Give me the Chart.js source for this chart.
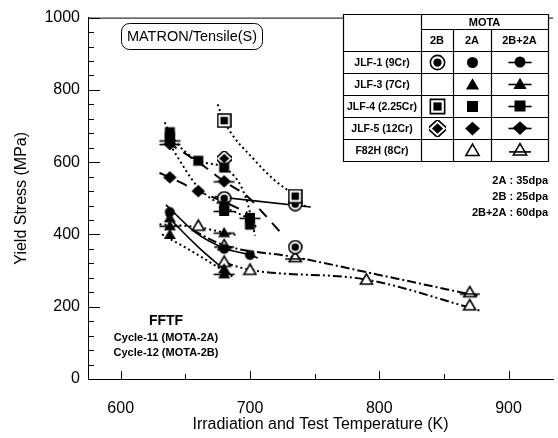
<!DOCTYPE html>
<html>
<head>
<meta charset="utf-8">
<script src="https://cdn.jsdelivr.net/npm/chart.js@4"></script>
<style>
  html, body { margin: 0; padding: 0; background: #fff; }
  #wrap { width: 558px; height: 438px; }
</style>
</head>
<body>
<div id="wrap"><canvas id="chart" width="558" height="438"></canvas></div>
<script>
// Axis ticks
const xTicks = [600, 700, 800, 900];
const xMinorTicks = [650, 750, 850];
const yTicks = [0, 200, 400, 600, 800, 1000];
const yMinorTicks = [40, 80, 120, 160, 240, 280, 320, 360, 440, 480, 520, 560, 640, 680, 720, 760, 840, 880, 920, 960];

// Measured points [temperature K, yield stress MPa]
const jlf1_2B = [[680, 500], [735, 484], [735, 365]];
const jlf1_2A = [[638, 462], [680, 360], [700, 343]];
const jlf3_2A = [[638, 446], [638, 400], [680, 305]];
const jlf3_2B2A = [[638, 424], [680, 405], [680, 291]];
const jlf4_2B = [[680, 715], [735, 506]];
const jlf4_2A = [[638, 683], [638, 670], [660, 604], [680, 585], [680, 479], [700, 427]];
const jlf4_2B2A = [[638, 660], [680, 465], [700, 446]];
const jlf5_2B = [[680, 610]];
const jlf5_2A = [[638, 558], [660, 520]];
const jlf5_2B2A = [[638, 650], [680, 547]];
const f82h_2A = [[660, 424], [680, 324], [700, 302], [790, 275], [870, 204]];
const f82h_2B2A = [[680, 370], [735, 337], [870, 240]];

// Trend curves
const fitJlf4_2B = [[675, 760], [680, 713], [704, 604], [719, 550], [735, 506], [744, 473]];
const fitJlf4_2A = [[634, 710], [638, 680], [660, 604], [681, 583], [697, 500], [704, 397]];
const fitJlf4_2B2A = [[636, 660], [660, 530], [681, 475], [700, 440], [705, 420]];
const fitJlf5_2A = [[630, 570], [638, 558], [660, 520], [680, 490], [698, 460]];
const fitJlf5_2B2A = [[636, 655], [660, 600], [680, 547], [698, 505], [710, 460], [725, 400]];
const fitJlf1_2B = [[673, 505], [747, 476]];
const fitJlf1_2A = [[635, 482], [658, 405], [680, 362], [700, 343], [706, 335]];
const fitJlf3_2A = [[635, 454], [660, 365], [685, 288]];
const fitJlf3_2B2A = [[630, 428], [660, 420], [680, 405], [690, 398]];
const fitJlf3_low = [[632, 400], [660, 343], [688, 280]];
const fitF82h_2B2A = [[656, 411], [680, 370], [735, 337], [800, 288], [876, 230]];
const fitF82h_2A = [[680, 322], [700, 302], [790, 275], [879, 188]];

// Legend table
const legendRows = ['JLF-1 (9Cr)', 'JLF-3 (7Cr)', 'JLF-4 (2.25Cr)', 'JLF-5 (12Cr)', 'F82H (8Cr)'];
const legendShapes = ['circle', 'triangle', 'square', 'diamond', 'open'];
const legendCols = ['2B', '2A', '2B+2A'];
const legendCells = [
  ['2B', '2A', '2B2A'],
  [null, '2A', '2B2A'],
  ['2B', '2A', '2B2A'],
  ['2B', '2A', '2B2A'],
  [null, '2A', '2B2A']
];
const doseNotes = ['2A : 35dpa', '2B : 25dpa', '2B+2A : 60dpa'];

const FONT = 'Arial, "Liberation Sans", Helvetica, sans-serif';

function shapePath(ctx, shape, c, r) {
  ctx.beginPath();
  if (shape === 'circle') {
    ctx.arc(c, c, r, 0, Math.PI * 2);
  } else if (shape === 'square') {
    ctx.rect(c - r, c - r, r * 2, r * 2);
  } else if (shape === 'diamond') {
    ctx.moveTo(c, c - r * 1.25); ctx.lineTo(c + r * 1.35, c);
    ctx.lineTo(c, c + r * 1.25); ctx.lineTo(c - r * 1.35, c);
  } else {
    ctx.moveTo(c, c - r * 1.15); ctx.lineTo(c + r * 1.2, c + r * 0.9);
    ctx.lineTo(c - r * 1.2, c + r * 0.9);
  }
  ctx.closePath();
}

function makeMarker(shape, kind, r) {
  const size = kind === '2B2A' ? Math.round(r * 4.4) : Math.round(r * 3);
  const cv = document.createElement('canvas');
  cv.width = size; cv.height = size;
  const ctx = cv.getContext('2d');
  const c = size / 2;
  ctx.strokeStyle = '#000';
  ctx.fillStyle = '#000';
  ctx.lineWidth = 1.6;
  if (shape === 'open') {
    shapePath(ctx, 'triangle', c, r);
    ctx.fillStyle = '#fff';
    ctx.fill();
    ctx.stroke();
    if (kind === '2B2A') {
      ctx.beginPath();
      ctx.moveTo(c - r * 2, c + r * 0.35); ctx.lineTo(c + r * 2, c + r * 0.35);
      ctx.stroke();
    }
    return cv;
  }
  if (kind === '2B') {
    shapePath(ctx, shape, c, r * 1.3);
    ctx.fillStyle = '#fff';
    ctx.fill();
    ctx.stroke();
    ctx.fillStyle = '#000';
    shapePath(ctx, shape, c, r * 0.75);
    ctx.fill();
    return cv;
  }
  shapePath(ctx, shape, c, r);
  ctx.fill();
  if (kind === '2B2A') {
    ctx.beginPath();
    ctx.moveTo(c - r * 2.1, c + 0.5); ctx.lineTo(c + r * 2.1, c + 0.5);
    ctx.stroke();
  }
  return cv;
}

const toXY = arr => arr.map(p => ({ x: p[0], y: p[1] }));

function pointSet(data, shape, kind) {
  return {
    type: 'scatter',
    data: toXY(data),
    pointStyle: makeMarker(shape, kind, 5),
    showLine: false,
    order: 1
  };
}

function curve(data, dash, width) {
  return {
    type: 'line',
    data: toXY(data),
    borderColor: '#000',
    borderWidth: width || 2,
    borderDash: dash,
    pointRadius: 0,
    fill: false,
    cubicInterpolationMode: 'monotone',
    order: 2
  };
}

const DOT = [2, 3];
const LONG = [11, 8];
const DASHDOT = [9, 3, 2, 3];
const DASHDOTDOT = [9, 3, 2, 3, 2, 3];

const datasets = [
  curve(fitJlf4_2B, DOT),
  curve(fitJlf4_2A, DOT),
  curve(fitJlf4_2B2A, DOT),
  curve(fitJlf5_2A, LONG),
  curve(fitJlf5_2B2A, LONG),
  curve(fitJlf1_2B, [], 1.6),
  curve(fitJlf1_2A, [], 1.6),
  curve(fitJlf3_2A, [], 1.6),
  curve(fitJlf3_2B2A, DOT),
  curve(fitJlf3_low, DOT),
  curve(fitF82h_2B2A, DASHDOT),
  curve(fitF82h_2A, DASHDOTDOT),
  pointSet(jlf4_2B, 'square', '2B'),
  pointSet(jlf4_2A, 'square', '2A'),
  pointSet(jlf4_2B2A, 'square', '2B2A'),
  pointSet(jlf5_2B, 'diamond', '2B'),
  pointSet(jlf5_2A, 'diamond', '2A'),
  pointSet(jlf5_2B2A, 'diamond', '2B2A'),
  pointSet(jlf1_2B, 'circle', '2B'),
  pointSet(jlf1_2A, 'circle', '2A'),
  pointSet(jlf3_2A, 'triangle', '2A'),
  pointSet(jlf3_2B2A, 'triangle', '2B2A'),
  pointSet(f82h_2A, 'open', '2A'),
  pointSet(f82h_2B2A, 'open', '2B2A')
];

// Inward ticks and top frame line
const axisTicks = {
  id: 'axisTicks',
  afterDraw(chart) {
    const { ctx, chartArea: a, scales: { x, y } } = chart;
    ctx.save();
    ctx.strokeStyle = '#000';
    ctx.lineWidth = 1;
    ctx.beginPath();
    ctx.moveTo(a.left, a.top + 0.5); ctx.lineTo(a.right, a.top + 0.5);
    yTicks.forEach(v => {
      const p = Math.round(y.getPixelForValue(v)) + 0.5;
      ctx.moveTo(a.left, p); ctx.lineTo(a.left + 12, p);
    });
    yMinorTicks.forEach(v => {
      const p = Math.round(y.getPixelForValue(v)) + 0.5;
      ctx.moveTo(a.left, p); ctx.lineTo(a.left + 6, p);
    });
    xTicks.forEach(v => {
      const p = Math.round(x.getPixelForValue(v)) + 0.5;
      ctx.moveTo(p, a.bottom); ctx.lineTo(p, a.bottom - 8);
    });
    xMinorTicks.forEach(v => {
      const p = Math.round(x.getPixelForValue(v)) + 0.5;
      ctx.moveTo(p, a.bottom); ctx.lineTo(p, a.bottom - 5);
    });
    ctx.stroke();
    ctx.restore();
  }
};

// Labels, legend table and notes
const annotations = {
  id: 'annotations',
  afterDraw(chart) {
    const ctx = chart.ctx;
    ctx.save();
    ctx.strokeStyle = '#000';
    ctx.fillStyle = '#000';
    ctx.lineWidth = 1;

    // title box
    ctx.beginPath();
    ctx.roundRect(121.5, 23.5, 141, 26, 8);
    ctx.stroke();
    ctx.font = '14.5px ' + FONT;
    ctx.textBaseline = 'middle';
    ctx.textAlign = 'center';
    ctx.fillText('MATRON/Tensile(S)', 192, 37);

    // facility note
    ctx.font = 'bold 14px ' + FONT;
    ctx.fillText('FFTF', 166, 321);
    ctx.font = 'bold 11px ' + FONT;
    ctx.fillText('Cycle-11 (MOTA-2A)', 166, 338);
    ctx.fillText('Cycle-12 (MOTA-2B)', 166, 353);

    // legend table
    const L = 343, C1 = 421, C2 = 453, C3 = 491, R = 548;
    const T = 14, H1 = 29, H2 = 51, B = 161;
    const rowH = (B - H2) / legendRows.length;
    ctx.fillStyle = '#fff';
    ctx.fillRect(L, T, R - L, B - T);
    ctx.fillStyle = '#000';
    ctx.lineWidth = 1.2;
    ctx.beginPath();
    ctx.rect(L + 0.5, T + 0.5, R - L, B - T);
    ctx.moveTo(C1 + 0.5, T); ctx.lineTo(C1 + 0.5, B);
    ctx.moveTo(C2 + 0.5, H1); ctx.lineTo(C2 + 0.5, B);
    ctx.moveTo(C3 + 0.5, H1); ctx.lineTo(C3 + 0.5, B);
    ctx.moveTo(C1, H1 + 0.5); ctx.lineTo(R, H1 + 0.5);
    ctx.moveTo(L, H2 + 0.5); ctx.lineTo(R, H2 + 0.5);
    for (let i = 1; i < legendRows.length; i++) {
      const yy = Math.round(H2 + rowH * i) + 0.5;
      ctx.moveTo(L, yy); ctx.lineTo(R, yy);
    }
    ctx.stroke();

    ctx.font = 'bold 11px ' + FONT;
    ctx.textAlign = 'center';
    ctx.fillText('MOTA', (C1 + R) / 2, (T + H1) / 2 + 1);
    const colX = [(C1 + C2) / 2, (C2 + C3) / 2, (C3 + R) / 2];
    legendCols.forEach((t, i) => ctx.fillText(t, colX[i], (H1 + H2) / 2 + 1));
    ctx.font = 'bold 10.5px ' + FONT;
    legendRows.forEach((t, r) => {
      const cy = H2 + rowH * (r + 0.5);
      ctx.textAlign = 'center';
      ctx.fillText(t, (L + C1) / 2, cy + 1);
      legendCells[r].forEach((k, ci) => {
        if (!k) return;
        const m = makeMarker(legendShapes[r], k, 5.5);
        ctx.drawImage(m, Math.round(colX[ci] - m.width / 2), Math.round(cy - m.height / 2));
      });
    });

    // dose notes
    ctx.font = 'bold 11px ' + FONT;
    ctx.textAlign = 'right';
    doseNotes.forEach((t, i) => ctx.fillText(t, 548, 181 + i * 16));
    ctx.restore();
  }
};

new Chart(document.getElementById('chart'), {
  data: { datasets },
  options: {
    responsive: false,
    devicePixelRatio: 1,
    animation: false,
    layout: { padding: { top: 12, right: 0, left: 0, bottom: 0 } },
    plugins: { legend: { display: false }, tooltip: { enabled: false } },
    scales: {
      x: {
        type: 'linear',
        min: 574.7,
        max: 934.4,
        afterBuildTicks: s => { s.ticks = xTicks.map(v => ({ value: v })); },
        afterFit: s => { s.height = 59; },
        grid: { display: false, drawTicks: false },
        border: { display: true, color: '#000', width: 1 },
        ticks: { color: '#000', font: { size: 16, family: FONT }, padding: 20, maxRotation: 0,
                 callback: v => String(v) },
        title: { display: true, text: 'Irradiation and Test Temperature (K)', color: '#000',
                 font: { size: 16, family: FONT }, padding: { top: 0, bottom: 4 } }
      },
      y: {
        type: 'linear',
        min: 0,
        max: 1000,
        afterBuildTicks: s => { s.ticks = yTicks.map(v => ({ value: v })); },
        afterFit: s => { s.width = 88; },
        grid: { display: false, drawTicks: false },
        border: { display: true, color: '#000', width: 1 },
        ticks: { color: '#000', font: { size: 16, family: FONT }, padding: 8,
                 callback: v => String(v) },
        title: { display: true, text: 'Yield Stress (MPa)', color: '#000',
                 font: { size: 16, family: FONT }, padding: { top: 12, bottom: 0 } }
      }
    }
  },
  plugins: [axisTicks, annotations]
});
</script>
</body>
</html>
